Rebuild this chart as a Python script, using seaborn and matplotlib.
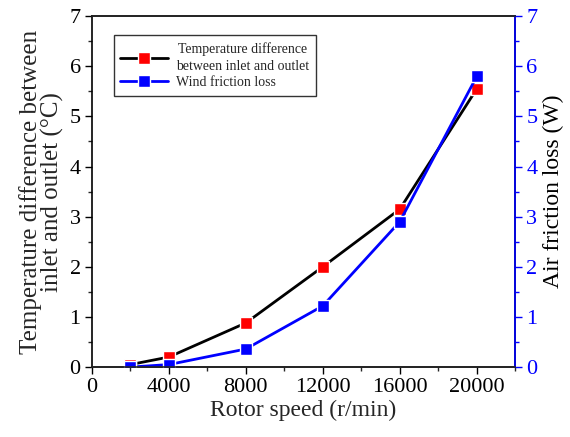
import matplotlib
matplotlib.use("Agg")
import matplotlib.pyplot as plt
import seaborn as sns
import pandas as pd
from matplotlib.ticker import MultipleLocator
from matplotlib.lines import Line2D

speed = [2000, 4000, 8000, 12000, 16000, 20000]
temp_diff = [0.05, 0.2, 0.88, 2.0, 3.15, 5.55]
wind_loss = [0.0, 0.05, 0.36, 1.22, 2.9, 5.8]

sns.set_style("ticks")
plt.rcParams['font.family'] = ['Liberation Serif', 'DejaVu Serif']
plt.rcParams['mathtext.fontset'] = 'stix'

df = pd.DataFrame({"speed": speed, "temp": temp_diff, "wind": wind_loss})

fig = plt.figure(figsize=(5.7, 4.37), dpi=100)
ax = fig.add_axes([0.161, 0.160, 0.743, 0.803])
ax2 = ax.twinx()

sns.lineplot(data=df, x="speed", y="temp", ax=ax, color="black", lw=2,
             marker="s", markersize=9, markerfacecolor="red", markeredgecolor="white",
             markeredgewidth=1)
sns.lineplot(data=df, x="speed", y="wind", ax=ax2, color="blue", lw=2,
             marker="s", markersize=9, markerfacecolor="blue", markeredgecolor="white",
             markeredgewidth=1)

ax.set_xlim(0, 22000)
ax.set_ylim(0, 7)
ax2.set_ylim(0, 7)
ax.xaxis.set_major_locator(MultipleLocator(4000))
ax.xaxis.set_minor_locator(MultipleLocator(2000))
for a in (ax, ax2):
    a.yaxis.set_major_locator(MultipleLocator(1))
    a.yaxis.set_minor_locator(MultipleLocator(0.5))

ax.tick_params(axis='both', which='major', direction='out', length=5, width=1, labelsize=16,
               colors='black', pad=3)
ax.tick_params(axis='both', which='minor', direction='out', length=3, width=1)
ax2.tick_params(axis='y', which='major', direction='out', length=5, width=1, labelsize=16,
                colors='blue', pad=3)
ax2.tick_params(axis='y', which='minor', direction='out', length=3, width=1, colors='blue')

for s in ax.spines.values():
    s.set_linewidth(1.2)
    s.set_color('black')
for s in ax2.spines.values():
    s.set_linewidth(1.2)
ax2.spines['right'].set_color('blue')
ax2.spines['left'].set_visible(False)

ax.set_xlabel("Rotor speed (r/min)", fontsize=17, labelpad=2)
ax.set_ylabel("Temperature difference between\ninlet and outlet (\u00b0C)", fontsize=18,
              linespacing=0.95, labelpad=4)
ax2.set_ylabel("Air friction loss (W)", fontsize=17, color='black', labelpad=4)

handles = [
    Line2D([], [], color='black', lw=2, marker='s', markersize=8, markerfacecolor='red',
           markeredgecolor='white'),
    Line2D([], [], color='blue', lw=2, marker='s', markersize=8, markerfacecolor='blue',
           markeredgecolor='white'),
]
labels = ["Temperature difference\nbetween inlet and outlet", "Wind friction loss"]
leg = ax.legend(handles, labels, loc='upper left', bbox_to_anchor=(0.035, 0.965),
                fontsize=10, frameon=True, fancybox=False, edgecolor='black',
                handlelength=3.4, borderpad=0.5, labelspacing=0.25, handletextpad=0.6)
leg.get_frame().set_linewidth(1)
for t in leg.get_texts():
    t.set_ha('center')
    t.set_linespacing(1.35)

fig.savefig("out.png", dpi=100)
